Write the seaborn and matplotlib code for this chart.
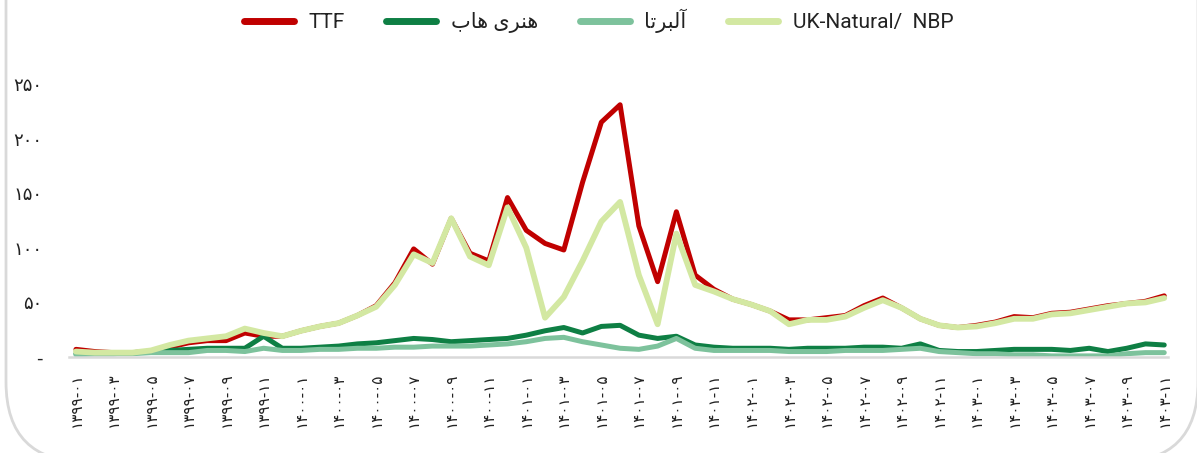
import matplotlib
matplotlib.use("Agg")
import matplotlib.pyplot as plt
from matplotlib.lines import Line2D
from matplotlib.patches import FancyBboxPatch
from matplotlib.font_manager import FontProperties
import pandas as pd
import seaborn as sns

# Monthly gas prices, 1399-01 .. 1403-11 (Solar Hijri calendar)
FA_DIGITS = str.maketrans("0123456789", "۰۱۲۳۴۵۶۷۸۹")
months = [f"{y}-{m:02d}" for y in range(1399, 1404) for m in range(1, 13)][:59]
month_labels = [s.translate(FA_DIGITS) for s in months]

ttf = [7, 5, 4, 4, 5, 9, 13, 15, 15, 22, 19, 19, 24, 28, 31, 38, 47, 68, 99, 85,
       127, 95, 88, 146, 116, 104, 98, 160, 215, 231, 120, 69, 133, 75, 62, 53, 48, 42, 34, 34,
       36, 38, 47, 54, 45, 35, 29, 27, 29, 32, 37, 36, 40, 41, 44, 47, 49, 51, 56]
henry_hub = [3, 3, 3, 4, 5, 6, 7, 8, 8, 8, 19, 8, 8, 9, 10, 12, 13, 15, 17, 16,
             14, 15, 16, 17, 20, 24, 27, 22, 28, 29, 20, 17, 19, 11, 9, 8, 8, 8, 7, 8,
             8, 8, 9, 9, 8, 12, 6, 5, 5, 6, 7, 7, 7, 6, 8, 5, 8, 12, 11]
alberta = [2, 3, 3, 3, 4, 4, 4, 6, 6, 5, 8, 6, 6, 7, 7, 8, 8, 9, 9, 10,
           10, 10, 11, 12, 14, 17, 18, 14, 11, 8, 7, 10, 17, 8, 6, 6, 6, 6, 5, 5,
           5, 6, 6, 6, 7, 8, 5, 4, 3, 3, 2, 2, 1, 1, 1, 1, 3, 4, 4]
nbp = [5, 4, 4, 4, 6, 11, 15, 17, 19, 26, 22, 19, 24, 28, 31, 38, 46, 66, 94, 86,
       127, 92, 84, 137, 100, 36, 55, 88, 124, 142, 75, 30, 113, 66, 60, 53, 48, 42, 30, 34,
       34, 37, 45, 52, 45, 35, 29, 27, 28, 31, 35, 35, 39, 40, 43, 46, 49, 50, 54]

# Persian legend names, pre-shaped in visual order (matplotlib does no Arabic shaping)
name_ttf = "TTF"
name_henry = "\uFE8F\uFE8E\uFEEB \uFBFC\uFEAE\uFEE8\uFEEB"   # هنری هاب
name_alberta = "\uFE8E\uFE97\uFEAE\uFE92\uFEDF\uFE81"        # آلبرتا
name_nbp = "UK-Natural/  NBP"

y_ticks = [0, 50, 100, 150, 200, 250]
y_tick_labels = ["-", "۵۰", "۱۰۰", "۱۵۰", "۲۰۰", "۲۵۰"]

series = [
    (name_ttf, ttf, "#C00000", 3.6),
    (name_henry, henry_hub, "#0E7F44", 3.6),
    (name_alberta, alberta, "#7DC29C", 3.6),
    (name_nbp, nbp, "#D3E8A2", 4.2),
]

sns.set_theme(style="white")
plt.rcParams["font.family"] = ["DejaVu Sans"]

W, H = 1197, 453
fig = plt.figure(figsize=(W / 100, H / 100), dpi=100)

# rounded light-grey card outline behind the chart (pixel units, y up)
bg = fig.add_axes([0, 0, 1, 1], zorder=-5)
bg.set_xlim(0, W)
bg.set_ylim(0, H)
bg.axis("off")
bg.add_patch(FancyBboxPatch((6, -9), 1192, 700,
                            boxstyle="round,pad=0,rounding_size=80",
                            fill=False, edgecolor="#D9D9D9", linewidth=2.0))

ax = fig.add_axes([69 / W, 1 - 357 / H, (1168 - 69) / W, (357 - 84) / H])
ax.patch.set_alpha(0)

idx = list(range(len(months)))
for name, vals, color, lw in series:
    df = pd.DataFrame({"idx": idx, "value": vals})
    sns.lineplot(data=df, x="idx", y="value", ax=ax, color=color, linewidth=lw,
                 legend=False, solid_joinstyle="round", solid_capstyle="round")

ax.set_xlim(-0.37, 58.2)
ax.set_ylim(0, 250)
ax.set_xlabel("")
ax.set_ylabel("")

ax.set_xticks(idx[::2])
ax.set_xticklabels(month_labels[::2], rotation=90, fontsize=11, color="#222222",
                   va="top", ha="center")
ax.set_yticks(y_ticks)
ax.set_yticklabels(y_tick_labels, fontsize=13, color="#222222")
ax.tick_params(axis="x", length=0, pad=11)
ax.tick_params(axis="y", length=0, pad=19)

for side in ("top", "right", "left"):
    ax.spines[side].set_visible(False)
ax.spines["bottom"].set_color("#D9D9D9")
ax.spines["bottom"].set_linewidth(1.8)
ax.grid(False)

handles = [Line2D([0], [0], color=c, linewidth=5, solid_capstyle="round")
           for _, _, c, _ in series]
labels = [n for n, _, _, _ in series]
legend_font = FontProperties(family=["Roboto", "DejaVu Sans"], size=15)
fig.legend(handles, labels, loc="upper center", bbox_to_anchor=(0.5, 1.022), ncol=4,
           frameon=False, prop=legend_font, handlelength=2.4, handletextpad=0.7,
           columnspacing=2.0, labelcolor="#222222")

fig.savefig("out.png", dpi=100)
